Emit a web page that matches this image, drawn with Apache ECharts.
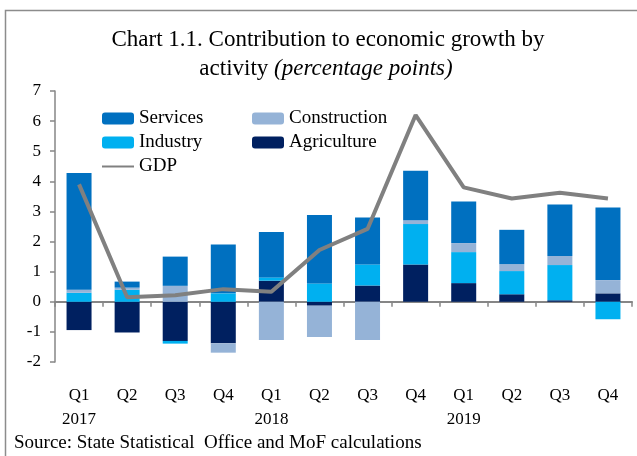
<!DOCTYPE html>
<html>
<head>
<meta charset="utf-8">
<script src="https://cdn.jsdelivr.net/npm/echarts@6/dist/echarts.min.js"></script>
<style>
  html, body { margin: 0; padding: 0; background: #fff; }
  #chart { width: 637px; height: 456px; }
</style>
</head>
<body>
<div id="chart"></div>
<script>
const quarters = ['Q1', 'Q2', 'Q3', 'Q4', 'Q1', 'Q2', 'Q3', 'Q4', 'Q1', 'Q2', 'Q3', 'Q4']
const years = ['2017', '', '', '', '2018', '', '', '', '2019', '', '', '']
const agriculture = [-0.94, -1.02, -1.3, -1.38, 0.7, -0.13, 0.54, 1.24, 0.62, 0.25, 0.05, 0.28]
const industry = [0.3, 0.4, -0.09, 0.28, 0.11, 0.61, 0.7, 1.34, 1.03, 0.77, 1.17, -0.58]
const construction = [0.1, 0.07, 0.53, -0.31, -1.27, -1.04, -1.27, 0.13, 0.3, 0.23, 0.3, 0.44]
const services = [3.88, 0.2, 0.97, 1.62, 1.51, 2.27, 1.56, 1.64, 1.38, 1.14, 1.71, 2.41]
const gdp = [3.9, 0.15, 0.22, 0.42, 0.33, 1.72, 2.42, 6.2, 3.8, 3.43, 3.62, 3.43]

const FONT = 'Liberation Serif'
const categories = quarters.map((q, i) => q + '\n' + years[i])

const chart = echarts.init(document.getElementById('chart'))

function bar(name, data, color) {
  return {
    name,
    type: 'bar',
    stack: 'total',
    data,
    barWidth: 25,
    itemStyle: { color },
  }
}

const legendBase = {
  orient: 'vertical',
  top: 109,
  padding: 0,
  itemWidth: 32,
  itemHeight: 12,
  itemGap: 5,
  textStyle: { fontFamily: FONT, fontSize: 19, color: '#000' },
}

chart.setOption({
  animation: false,
  textStyle: { fontFamily: FONT, color: '#000' },
  graphic: [
    {
      type: 'rect',
      shape: { x: 5.5, y: 10.5, width: 700, height: 500 },
      style: { fill: null, stroke: '#8c8c8c', lineWidth: 1.5 },
      silent: true,
    },
    {
      type: 'text',
      x: 328,
      y: 40,
      style: {
        text: 'Chart 1.1. Contribution to economic growth by',
        font: '23px "Liberation Serif"',
        fill: '#000',
        align: 'center',
        verticalAlign: 'middle',
      },
    },
    {
      type: 'text',
      x: 326,
      y: 69,
      style: {
        text: '{a|activity }{b|(percentage points)}',
        align: 'center',
        verticalAlign: 'middle',
        rich: {
          a: { fontFamily: FONT, fontSize: 23, fill: '#000' },
          b: { fontFamily: FONT, fontSize: 23, fontStyle: 'italic', fill: '#000' },
        },
      },
    },
    {
      type: 'text',
      x: 14,
      y: 443,
      style: {
        text: 'Source: State Statistical  Office and MoF calculations',
        font: '19px "Liberation Serif"',
        fill: '#000',
        verticalAlign: 'middle',
      },
    },
  ],
  legend: [
    {
      ...legendBase,
      left: 101,
      data: ['Services', 'Industry', { name: 'GDP', itemStyle: { opacity: 0 } }],
    },
    {
      ...legendBase,
      left: 252,
      data: ['Construction', 'Agriculture'],
    },
  ],
  grid: { left: 55, right: 5, top: 91, bottom: 94 },
  xAxis: [
    {
      type: 'category',
      data: categories,
      axisLine: { onZero: true, lineStyle: { color: '#868686', width: 2 } },
      axisTick: { show: true, length: 5, lineStyle: { color: '#868686', width: 1.5 } },
      axisLabel: { show: false },
    },
    {
      type: 'category',
      data: categories,
      position: 'bottom',
      axisLine: { show: false, onZero: false },
      axisTick: { show: false },
      axisLabel: { fontFamily: FONT, fontSize: 17, color: '#000', margin: 22, lineHeight: 24 },
    },
  ],
  yAxis: {
    type: 'value',
    min: -2,
    max: 7,
    interval: 1,
    splitLine: { show: false },
    axisLine: { show: true, lineStyle: { color: '#868686', width: 1.5 } },
    axisTick: { show: true, length: 5, lineStyle: { color: '#868686', width: 1.5 } },
    axisLabel: { fontFamily: FONT, fontSize: 17, color: '#000', margin: 14 },
  },
  series: [
    bar('Agriculture', agriculture, '#002060'),
    bar('Industry', industry, '#00b0f0'),
    bar('Construction', construction, '#95b3d7'),
    bar('Services', services, '#0070c0'),
    {
      name: 'GDP',
      type: 'line',
      data: gdp,
      symbol: 'none',
      z: 5,
      lineStyle: { color: '#808080', width: 4 },
      itemStyle: { color: '#808080' },
    },
  ],
})
</script>
</body>
</html>
